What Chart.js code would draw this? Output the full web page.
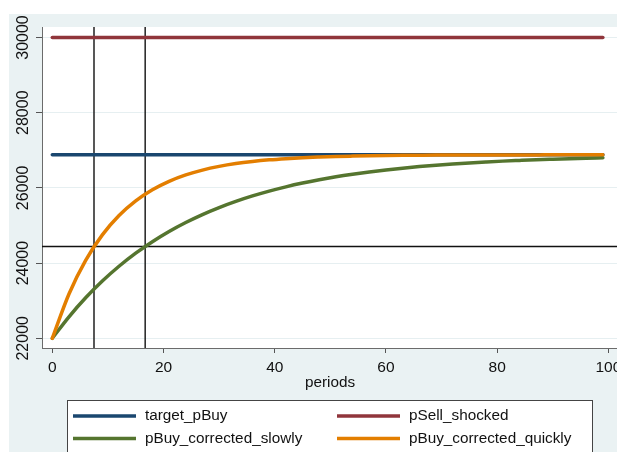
<!DOCTYPE html>
<html>
<head>
<meta charset="utf-8">
<script src="https://cdn.jsdelivr.net/npm/chart.js@4.4.1/dist/chart.umd.min.js"></script>
<style>
html, body { margin: 0; padding: 0; overflow: hidden; background: #fff; }
#wrap { width: 660px; height: 452px; }
</style>
</head>
<body>
<div id="wrap"><canvas id="chart"></canvas></div>
<script>
// values
const periods = [0, 3, 6, 9, 12, 15, 18, 21, 24, 27, 30, 33, 36, 39, 42, 45, 48,
                 51, 54, 57, 60, 63, 66, 69, 72, 75, 78, 81, 84, 87, 90, 93, 96, 99]
const pBuySlowly = [22000, 22572, 23077, 23523, 23916, 24263, 24570, 24841, 25080, 25291,
                    25477, 25641, 25786, 25915, 26028, 26128, 26216, 26294, 26362, 26423,
                    26477, 26524, 26566, 26603, 26635, 26664, 26689, 26712, 26731, 26749,
                    26764, 26778, 26790, 26800]
const pBuyQuickly = [22000, 23179, 24072, 24750, 25264, 25654, 25950, 26175, 26345, 26474,
                     26572, 26647, 26703, 26746, 26778, 26803, 26821, 26836, 26846, 26854,
                     26861, 26866, 26869, 26872, 26874, 26875, 26876, 26877, 26878, 26878,
                     26879, 26879, 26879, 26880]
const flatPeriods = [0, 99]
const targetPBuy = [26880, 26880]
const pSellShocked = [30000, 30000]

const xTicks = [0, 20, 40, 60, 80, 100]
const yTicks = [22000, 24000, 26000, 28000, 30000]
const halfLifePeriods = [7.5, 16.7]
const halfwayPrice = [24440]

const FONT = "'Liberation Sans', Arial, sans-serif"

function toPoints(xs, ys) {
    return xs.map((x, i) => ({x: x, y: ys[i]}))
}

const stataLook = {
    id: 'stataLook',
    beforeDraw(chart) {
        const ctx = chart.ctx
        const a = chart.chartArea
        ctx.save()
        ctx.fillStyle = '#ffffff'
        ctx.fillRect(0, 0, chart.width, chart.height)
        ctx.fillStyle = '#EAF2F3'
        ctx.fillRect(9, 14, chart.width - 9, chart.height - 14)
        ctx.fillStyle = '#ffffff'
        ctx.fillRect(a.left, a.top, a.right - a.left, a.bottom - a.top)
        ctx.restore()
    },
    beforeDatasetsDraw(chart) {
        const ctx = chart.ctx
        const a = chart.chartArea
        const xs = chart.scales.x
        const ys = chart.scales.y
        ctx.save()
        ctx.strokeStyle = '#111'
        ctx.lineWidth = 1.4
        halfLifePeriods.forEach(p => {
            const px = xs.getPixelForValue(p)
            ctx.beginPath(); ctx.moveTo(px, a.top); ctx.lineTo(px, a.bottom); ctx.stroke()
        })
        halfwayPrice.forEach(v => {
            const py = ys.getPixelForValue(v)
            ctx.beginPath(); ctx.moveTo(a.left, py); ctx.lineTo(a.right, py); ctx.stroke()
        })
        ctx.restore()
    },
    afterDraw(chart) {
        const ctx = chart.ctx
        const ys = chart.scales.y
        ctx.save()
        // rotated y tick labels
        ctx.fillStyle = '#111'
        ctx.font = '16px ' + FONT
        ctx.textAlign = 'center'
        ctx.textBaseline = 'middle'
        ys.ticks.forEach(t => {
            ctx.save()
            ctx.translate(23.5, ys.getPixelForValue(t.value))
            ctx.rotate(-Math.PI / 2)
            ctx.fillText(String(t.value), 0, 0)
            ctx.restore()
        })
        // axis title
        ctx.font = '15.3px ' + FONT
        ctx.fillText('periods', 330, 383)
        // legend box, bottom edge runs off the picture
        ctx.fillStyle = '#ffffff'
        ctx.fillRect(67.5, 400.5, 525, 80)
        ctx.strokeStyle = '#444'
        ctx.lineWidth = 1
        ctx.strokeRect(67.5, 400.5, 525, 80)
        const colX = [73, 337]
        const rowY = [416, 438.5]
        ctx.textAlign = 'left'
        chart.data.datasets.forEach((ds, i) => {
            const x = colX[i % 2]
            const y = rowY[Math.floor(i / 2)]
            ctx.strokeStyle = ds.borderColor
            ctx.lineWidth = 3.5
            ctx.beginPath(); ctx.moveTo(x, y); ctx.lineTo(x + 63, y); ctx.stroke()
            ctx.fillStyle = '#111'
            ctx.fillText(ds.label, x + 72, y)
        })
        ctx.restore()
    }
}

const lineStyle = {
    borderWidth: 3.5,
    pointRadius: 0,
    fill: false,
    cubicInterpolationMode: 'monotone',
    borderCapStyle: 'round'
}

new Chart(document.getElementById('chart'), {
    type: 'line',
    data: {
        datasets: [
            {label: 'target_pBuy', data: toPoints(flatPeriods, targetPBuy), borderColor: '#1A476F', order: 4, ...lineStyle},
            {label: 'pSell_shocked', data: toPoints(flatPeriods, pSellShocked), borderColor: '#90353B', order: 3, ...lineStyle},
            {label: 'pBuy_corrected_slowly', data: toPoints(periods, pBuySlowly), borderColor: '#55752F', order: 2, ...lineStyle},
            {label: 'pBuy_corrected_quickly', data: toPoints(periods, pBuyQuickly), borderColor: '#E37E00', order: 1, ...lineStyle}
        ]
    },
    options: {
        responsive: true,
        maintainAspectRatio: false,
        animation: false,
        devicePixelRatio: 1,
        layout: { padding: {left: 0, top: 27, right: 41, bottom: 0} },
        plugins: { legend: { display: false }, tooltip: { enabled: false } },
        scales: {
            x: {
                type: 'linear',
                min: -1.85,
                max: 101.9,
                afterBuildTicks: s => { s.ticks = xTicks.map(v => ({value: v})) },
                afterFit: s => { s.height = 104; s.paddingLeft = 0; s.paddingRight = 0 },
                grid: { drawOnChartArea: false, drawTicks: true, tickLength: 5, tickColor: '#555' },
                border: { color: '#6b6b6b', width: 1 },
                ticks: { autoSkip: false, maxRotation: 0, padding: 5, color: '#111', font: {family: FONT, size: 15.5} }
            },
            y: {
                type: 'linear',
                min: 21742,
                max: 30279,
                afterBuildTicks: s => { s.ticks = yTicks.map(v => ({value: v})) },
                afterFit: s => { s.width = 42 },
                grid: { color: '#E6EFF1', lineWidth: 1, tickLength: 6, tickColor: '#555' },
                border: { color: '#6b6b6b', width: 1 },
                ticks: { display: false }
            }
        }
    },
    plugins: [stataLook]
})
</script>
</body>
</html>
